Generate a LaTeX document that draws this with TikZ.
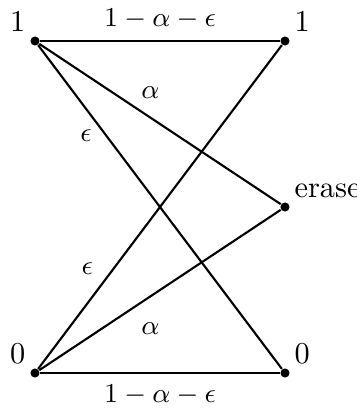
\documentclass[tikz,border=0pt]{standalone}
\usepackage{amsmath}
\usepackage{tikz}
\usetikzlibrary{positioning}

\begin{document}
\begin{tikzpicture}[
  x=0.33pt, y=-0.33pt,
  dot/.style={circle, fill=black, draw=none, inner sep=0pt, minimum size=3pt},
  corner/.style={inner sep=1pt, label distance=1.1pt},
  chan/.style={line width=0.7pt, draw=black},
  prob/.style={font=\small, inner sep=3.5pt}
]
\useasboundingbox (0,0) rectangle (357,408);
% inputs
\node[dot, label={[corner]above left:$1$}] (in1) at (35,41) {};
\node[dot, label={[corner]above left:$0$}] (in0) at (35,373) {};
% outputs
\node[dot, label={[corner]above right:$1$}] (out1) at (285,41) {};
\node[dot, label={[corner]above right:erase}] (outE) at (285,207) {};
\node[dot, label={[corner]above right:$0$}] (out0) at (285,373) {};
% transitions
\draw[chan] (in1) -- node[prob, above]{$1-\alpha-\epsilon$} (out1);
\draw[chan] (in1) -- node[prob, pos=0.46, above, yshift=2.5pt]{$\alpha$} (outE);
\draw[chan] (in1) -- node[prob, pos=0.28, left, xshift=-1pt]{$\epsilon$} (out0);
\draw[chan] (in0) -- node[prob, pos=0.31, left, xshift=-3pt]{$\epsilon$} (out1);
\draw[chan] (in0) -- node[prob, pos=0.46, below, yshift=-5pt]{$\alpha$} (outE);
\draw[chan] (in0) -- node[prob, below]{$1-\alpha-\epsilon$} (out0);
\end{tikzpicture}
\end{document}
